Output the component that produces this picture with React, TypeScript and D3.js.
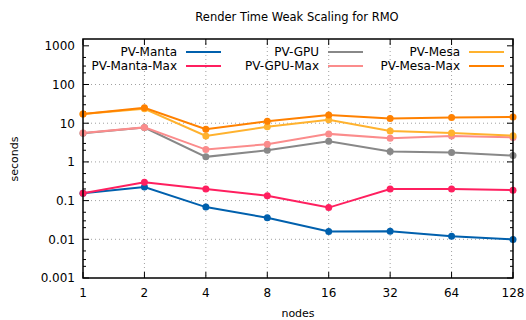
import React from "react";
import * as d3 from "d3";

// nodes on the x axis (log2)
const nodes = [1, 2, 4, 8, 16, 32, 64, 128];

const seriesNames = [
  "PV-Manta",
  "PV-Manta-Max",
  "PV-GPU",
  "PV-GPU-Max",
  "PV-Mesa",
  "PV-Mesa-Max",
];
const seriesColors = ["#0060ad", "#ff1f5f", "#888888", "#fb8c8c", "#ffb22e", "#ff8100"];

// render time in seconds, per node count
const pvManta = [0.155, 0.225, 0.068, 0.036, 0.016, 0.0162, 0.012, 0.0099];
const pvMantaMax = [0.155, 0.3, 0.2, 0.134, 0.066, 0.2, 0.2, 0.186];
const pvGpu = [5.5, 7.7, 1.35, 2.0, 3.4, 1.85, 1.75, 1.46];
const pvGpuMax = [5.6, 7.8, 2.08, 2.87, 5.3, 4.1, 4.7, 4.3];
const pvMesa = [17.2, 23.6, 4.7, 8.1, 12.2, 6.3, 5.6, 4.75];
const pvMesaMax = [17.2, 25, 7.0, 11.3, 16.2, 13.2, 14.0, 14.4];

const yMajor = [0.001, 0.01, 0.1, 1, 10, 100, 1000];
const yMajorLabels = ["0.001", "0.01", "0.1", "1", "10", "100", "1000"];
const yMinorSteps = [2, 3, 5];

const W = 526;
const H = 320;
const left = 83;
const right = 513;
const top = 39;
const bottom = 278;
const font = "'DejaVu Sans', sans-serif";

const App = () => {
  const x = d3.scaleLog().base(2).domain([1, 128]).range([left, right]);
  const y = d3.scaleLog().domain([0.001, 1500]).range([bottom, top]);

  const allSeries = [pvManta, pvMantaMax, pvGpu, pvGpuMax, pvMesa, pvMesaMax];

  const line = d3
    .line<number>()
    .x((_, i) => x(nodes[i]))
    .y((d) => y(d));

  const minor: number[] = [];
  yMajor.forEach((m) => {
    yMinorSteps.forEach((s) => {
      const v = m * s;
      if (v < 1500) minor.push(v);
    });
  });

  // legend: 3 columns, 2 rows
  const legendCols = [177, 319, 460];
  const legendRows = [52, 66];

  return (
    <svg
      width={W}
      height={H}
      style={{ position: "absolute", left: 0, top: 0, background: "#fff" }}
      fontFamily={font}
    >
      <rect width={W} height={H} fill="#fff" />
      <text x={297} y={21} fontSize={11.5} textAnchor="middle" fill="#000">
        Render Time Weak Scaling for RMO
      </text>

      {/* grid */}
      <g stroke="#a0a0a0" strokeWidth={1} strokeDasharray="1,3">
        {yMajor
          .filter((v) => v > 0.001 && v < 1000)
          .map((v) => (
            <line key={"gy" + v} x1={left} x2={right} y1={y(v)} y2={y(v)} />
          ))}
        {nodes.slice(1, -1).map((n) => (
          <line key={"gx" + n} x1={x(n)} x2={x(n)} y1={top} y2={bottom} />
        ))}
      </g>

      {/* ticks */}
      <g stroke="#000" strokeWidth={1}>
        {yMajor.map((v) => (
          <g key={"ty" + v}>
            <line x1={left} x2={left + 6} y1={y(v)} y2={y(v)} />
            <line x1={right} x2={right - 6} y1={y(v)} y2={y(v)} />
          </g>
        ))}
        {minor.map((v) => (
          <g key={"tm" + v}>
            <line x1={left} x2={left + 3} y1={y(v)} y2={y(v)} />
            <line x1={right} x2={right - 3} y1={y(v)} y2={y(v)} />
          </g>
        ))}
        {nodes.map((n) => (
          <g key={"tx" + n}>
            <line x1={x(n)} x2={x(n)} y1={bottom} y2={bottom - 6} />
            <line x1={x(n)} x2={x(n)} y1={top} y2={top + 6} />
          </g>
        ))}
      </g>

      {/* tick labels */}
      <g fontSize={12} fill="#000">
        {yMajor.map((v, i) => (
          <text key={"ly" + v} x={75} y={y(v)} dy="0.36em" textAnchor="end">
            {yMajorLabels[i]}
          </text>
        ))}
        {nodes.map((n) => (
          <text key={"lx" + n} x={x(n)} y={297} textAnchor="middle">
            {n}
          </text>
        ))}
      </g>

      <text x={298} y={317} fontSize={11} textAnchor="middle">
        nodes
      </text>
      <text
        transform="translate(18,159) rotate(-90)"
        fontSize={11}
        textAnchor="middle"
      >
        seconds
      </text>

      {/* series */}
      {allSeries.map((s, k) => (
        <g key={"s" + k}>
          <path d={line(s) || ""} fill="none" stroke={seriesColors[k]} strokeWidth={2} />
          {s.map((v, i) => (
            <circle key={i} cx={x(nodes[i])} cy={y(v)} r={3.5} fill={seriesColors[k]} />
          ))}
        </g>
      ))}

      {/* legend */}
      <g fontSize={12}>
        {seriesNames.map((name, k) => {
          const col = Math.floor(k / 2);
          const row = k % 2;
          const tx = legendCols[col];
          const ty = legendRows[row];
          return (
            <g key={"lg" + k}>
              <text x={tx} y={ty} dy="0.36em" textAnchor="end" fill="#000">
                {name}
              </text>
              <line
                x1={tx + 9}
                x2={tx + 44}
                y1={ty}
                y2={ty}
                stroke={seriesColors[k]}
                strokeWidth={2}
              />
            </g>
          );
        })}
      </g>

      {/* border */}
      <rect
        x={left}
        y={top}
        width={right - left}
        height={bottom - top}
        fill="none"
        stroke="#000"
        strokeWidth={1.5}
      />
    </svg>
  );
};

export default App;
